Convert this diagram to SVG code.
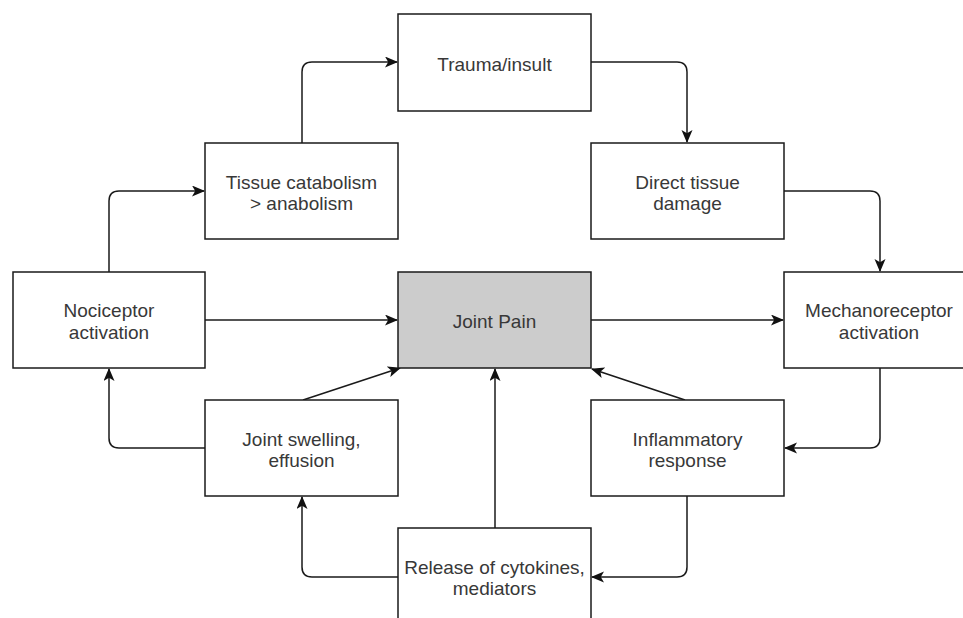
<svg xmlns="http://www.w3.org/2000/svg" width="963" height="618" viewBox="0 0 963 618">
<style>
.box{fill:#ffffff;stroke:#1a1a1a;stroke-width:1.5}
.hl{fill:#cccccc}
.t{font-family:"Liberation Sans",Arial,sans-serif;font-size:19px;fill:#383838;text-anchor:middle}
.c{fill:none;stroke:#1a1a1a;stroke-width:1.5;marker-end:url(#arr)}
</style>
<defs>
<marker id="arr" markerUnits="userSpaceOnUse" markerWidth="14" markerHeight="12" refX="12" refY="5.5" orient="auto">
<path d="M0,0 L13,5.5 L0,11 L3.2,5.5 Z" fill="#111111"/>
</marker>
</defs>
<rect width="963" height="618" fill="#ffffff"/>
<g id="connectors">
<path class="c" d="M302,143 V72 Q302,62 312,62 H397"/>
<path class="c" d="M591,62 H677 Q687,62 687,72 V142"/>
<path class="c" d="M784,191 H870 Q880,191 880,201 V271"/>
<path class="c" d="M880,368 V438 Q880,448 870,448 H785"/>
<path class="c" d="M687,496 V567 Q687,577 677,577 H592"/>
<path class="c" d="M398,577 H312 Q302,577 302,567 V497"/>
<path class="c" d="M205,448 H119 Q109,448 109,438 V369"/>
<path class="c" d="M109,272 V201 Q109,191 119,191 H204"/>
<path class="c" d="M205,320 H397"/>
<path class="c" d="M591,320 H783"/>
<path class="c" d="M303,400 L400,368"/>
<path class="c" d="M685,400 L592,369"/>
<path class="c" d="M495,528 V369"/>
</g>
<g id="trauma"><rect class="box" x="398" y="14" width="193" height="97"/><text class="t" x="494.5" y="70.5">Trauma/insult</text></g>
<g id="tissue"><rect class="box" x="205" y="143" width="193" height="96"/><text class="t" x="301.5" y="188.5">Tissue catabolism</text><text class="t" x="301.5" y="210">&gt; anabolism</text></g>
<g id="direct"><rect class="box" x="591" y="143" width="193" height="96"/><text class="t" x="687.5" y="188.5">Direct tissue</text><text class="t" x="687.5" y="210">damage</text></g>
<g id="nociceptor"><rect class="box" x="13" y="272" width="192" height="96"/><text class="t" x="109" y="317">Nociceptor</text><text class="t" x="109" y="338.5">activation</text></g>
<g id="jointpain"><rect class="box hl" x="398" y="272" width="193" height="96"/><text class="t" x="494.5" y="328">Joint Pain</text></g>
<g id="mechano"><rect class="box" x="784" y="272" width="193" height="96"/><text class="t" x="879" y="317">Mechanoreceptor</text><text class="t" x="879" y="338.5">activation</text></g>
<g id="swelling"><rect class="box" x="205" y="400" width="193" height="96"/><text class="t" x="301.5" y="445.5">Joint swelling,</text><text class="t" x="301.5" y="467">effusion</text></g>
<g id="inflammatory"><rect class="box" x="591" y="400" width="193" height="96"/><text class="t" x="687.5" y="445.5">Inflammatory</text><text class="t" x="687.5" y="467">response</text></g>
<g id="release"><rect class="box" x="398" y="528" width="193" height="96"/><text class="t" x="494.5" y="573.5">Release of cytokines,</text><text class="t" x="494.5" y="595">mediators</text></g>
</svg>
